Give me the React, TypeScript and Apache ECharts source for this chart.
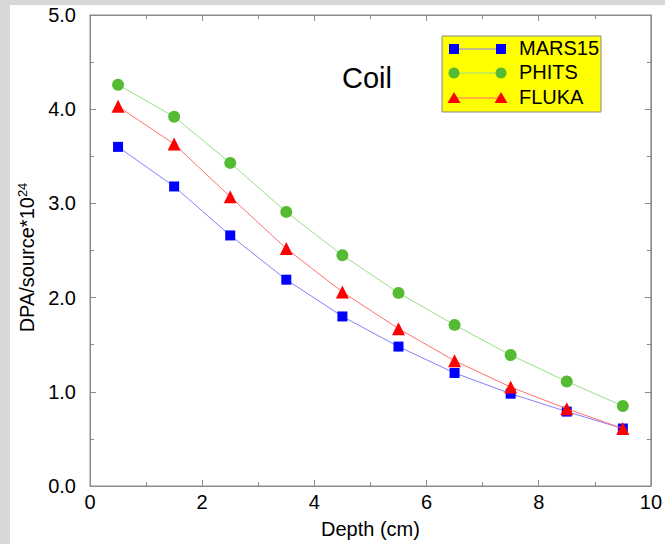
import React, { useEffect, useRef } from "react";
import * as echarts from "echarts";

const depths = [0.5, 1.5, 2.5, 3.5, 4.5, 5.5, 6.5, 7.5, 8.5, 9.5];
const mars15 = [3.6, 3.18, 2.66, 2.19, 1.8, 1.48, 1.2, 0.98, 0.79, 0.61];
const phits = [4.26, 3.92, 3.43, 2.91, 2.45, 2.05, 1.71, 1.39, 1.11, 0.85];
const fluka = [4.03, 3.63, 3.07, 2.52, 2.06, 1.67, 1.33, 1.05, 0.82, 0.61];
const legendNames = ["MARS15", "PHITS", "FLUKA"];

const FONT = "'Liberation Sans', Arial, Helvetica, sans-serif";
const GRAY = "#8a8a8a";

export default function App() {
  const ref = useRef<HTMLDivElement>(null);
  useEffect(() => {
    if (!ref.current) return;
    const chart = echarts.init(ref.current, null, { renderer: "svg" });
    const pairs = (ys: number[]) => depths.map((d, i) => [d, ys[i]]);
    const axisLine = () => ({ show: true, onZero: false, lineStyle: { color: GRAY, width: 1 } });
    const axisTick = () => ({ show: true, inside: true, length: 6, lineStyle: { color: GRAY } });
    const minorTick = () => ({ show: true, splitNumber: 2, length: 4, lineStyle: { color: GRAY } });
    const lx = 454, rx = 501, rows = [49, 73, 98];
    const legendStyles = [
      { sym: "rect", mc: "#0000ff", lc: "#8080ff" },
      { sym: "circle", mc: "#55bb33", lc: "#99dd88" },
      { sym: "tri", mc: "#ff0000", lc: "#ff7070" },
    ];
    const mk = (sym: string, x: number, y: number, c: string) => {
      if (sym === "rect") return { type: "rect", shape: { x: x - 5, y: y - 5, width: 10, height: 10 }, style: { fill: c } };
      if (sym === "circle") return { type: "circle", shape: { cx: x, cy: y, r: 5.5 }, style: { fill: c } };
      return { type: "polygon", shape: { points: [[x, y - 6], [x + 6.5, y + 5], [x - 6.5, y + 5]] }, style: { fill: c } };
    };
    const legendEls: any[] = [
      { type: "rect", shape: { x: 442, y: 36, width: 159, height: 76 }, style: { fill: "#ffff00", stroke: "#888", lineWidth: 1 } },
    ];
    legendStyles.forEach((s, i) => {
      legendEls.push({ type: "line", shape: { x1: lx, y1: rows[i], x2: rx, y2: rows[i] }, style: { stroke: s.lc, lineWidth: 1 } });
      legendEls.push(mk(s.sym, lx, rows[i], s.mc));
      legendEls.push(mk(s.sym, rx, rows[i], s.mc));
    });
    const legendTitles = legendNames.map((n, i) => ({
      text: n, left: 514, top: rows[i] - 16, z: 10,
      textStyle: { fontFamily: FONT, fontSize: 20, fontWeight: "normal", color: "#000" },
    }));
    chart.setOption({
      animation: false,
      title: [
        {
          text: "Coil", left: 337, top: 58,
          textStyle: { fontFamily: FONT, fontSize: 29, fontWeight: "normal", color: "#000" },
        },
        ...legendTitles,
      ],
      grid: { left: 90, top: 15, right: 9, bottom: 58, show: true, borderColor: GRAY, borderWidth: 1 },
      xAxis: [
        {
          type: "value", min: 0, max: 10, interval: 2, position: "bottom",
          name: "Depth (cm)", nameLocation: "middle", nameGap: 33,
          nameTextStyle: { fontFamily: FONT, fontSize: 20, color: "#000" },
          axisLine: axisLine(), axisTick: axisTick(), minorTick: minorTick(), splitLine: { show: false },
          axisLabel: { fontFamily: FONT, fontSize: 20, color: "#000", margin: 6 },
        },
        {
          type: "value", min: 0, max: 10, interval: 2, position: "top",
          axisLine: axisLine(), axisTick: axisTick(), minorTick: minorTick(), splitLine: { show: false }, axisLabel: { show: false },
        },
      ],
      yAxis: [
        {
          type: "value", min: 0, max: 5, interval: 1, position: "left",
          name: "{a|DPA/source*10}{s|24}", nameLocation: "middle", nameGap: 52,
          nameTextStyle: {
            padding: [0, 14, 0, 0],
            rich: {
              a: { fontFamily: FONT, fontSize: 20, color: "#000" },
              s: { fontFamily: FONT, fontSize: 13, color: "#000", verticalAlign: "top", padding: [0, 0, 9, 0] },
            },
          },
          axisLine: axisLine(), axisTick: axisTick(), minorTick: minorTick(), splitLine: { show: false },
          axisLabel: { fontFamily: FONT, fontSize: 20, color: "#000", margin: 14, formatter: (v: number) => v.toFixed(1) },
        },
        {
          type: "value", min: 0, max: 5, interval: 1, position: "right",
          axisLine: axisLine(), axisTick: axisTick(), minorTick: minorTick(), splitLine: { show: false }, axisLabel: { show: false },
        },
      ],
      series: [
        {
          name: "MARS15", type: "line", data: pairs(mars15), symbol: "rect", symbolSize: 10,
          lineStyle: { color: "#8080ff", width: 1 }, itemStyle: { color: "#0000ff" }, z: 3,
        },
        {
          name: "PHITS", type: "line", data: pairs(phits), symbol: "circle", symbolSize: 12,
          lineStyle: { color: "#99dd88", width: 1 }, itemStyle: { color: "#55bb33" }, z: 3,
        },
        {
          name: "FLUKA", type: "line", data: pairs(fluka), symbol: "triangle", symbolSize: 13,
          lineStyle: { color: "#ff7070", width: 1 }, itemStyle: { color: "#ff0000" }, z: 4,
        },
      ],
      graphic: legendEls,
    });
    return () => chart.dispose();
  }, []);
  return (
    <div style={{ position: "fixed", left: 0, top: 0, width: 665, height: 544, background: "#d8d8d8", overflow: "hidden" }}>
      <div style={{ position: "absolute", left: 10, top: 5, width: 655, height: 539, background: "#fff" }} />
      <div ref={ref} style={{ position: "absolute", left: 0, top: 0, width: 665, height: 544 }} />
    </div>
  );
}
